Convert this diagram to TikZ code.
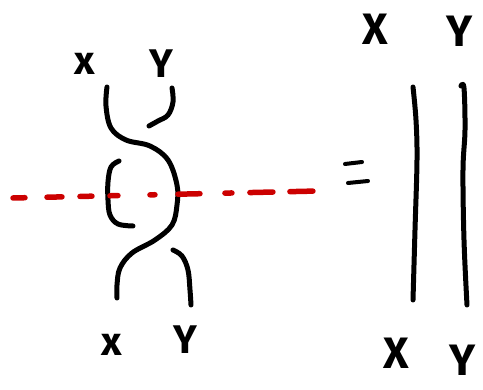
\documentclass[tikz,border=0pt]{standalone}
\usepackage{fontspec}
\setmainfont{Fira Sans}
\definecolor{strandred}{RGB}{204,0,0}
\tikzset{
  strand/.style={line width=5pt, line cap=round, line join=round, black},
  cutline/.style={line width=5.5pt, line cap=round, strandred,
    dash pattern=on 12pt off 22pt on 15pt off 18pt on 12pt off 18pt on 8pt off 32pt on 5pt off 23pt on 22pt off 25pt on 7pt off 18pt on 23pt off 17pt on 23pt off 30pt},
  lblsmall/.style={font=\bfseries\fontsize{40}{40}\selectfont, inner sep=0pt},
  lblbig/.style={font=\bfseries\fontsize{44}{44}\selectfont, inner sep=0pt}
}
\begin{document}
\begin{tikzpicture}[x=1pt,y=-1pt]
\useasboundingbox (0,0) rectangle (483,390);
% labels
\node[lblsmall] (tlx) at (85,64) {x};
\node[lblsmall] (tly) at (161,64) {Y};
\node[lblsmall] (blx) at (112,345) {x};
\node[lblsmall] (bly) at (185,340) {Y};
\node[lblbig] (trx) at (375,29) {X};
\node[lblbig] (try) at (460,31) {Y};
\node[lblbig] (brx) at (396,353) {X};
\node[lblbig] (bry) at (463,360) {Y};
% braid
\draw[strand] plot[smooth, tension=0.6] coordinates {(107,87) (106,106) (111,128) (126,140) (150,146) (168,160) (177,185) (177,205) (172,225) (155,240) (132,253) (120,268) (117,285) (117,298)};
\draw[strand] plot[smooth, tension=0.6] coordinates {(172,88) (173,102) (168,115) (158,121) (149,126)};
\draw[strand] plot[smooth, tension=0.6] coordinates {(119,161) (111,167) (108,182) (108,200) (110,215) (118,224) (133,226)};
\draw[strand] plot[smooth, tension=0.6] coordinates {(173,250) (182,256) (188,270) (190,290) (191,305)};
% cut line
\coordinate (cl) at (13,198);
\coordinate (cr) at (318,191);
\draw[cutline] (cl) -- (cr);
% equals
\draw[strand, line width=4pt] (345,164) -- (362,162);
\draw[strand, line width=4pt] (348,183) -- (368,181);
% identity strands
\draw[strand] plot[smooth, tension=0.6] coordinates {(413,87) (416,120) (417,160) (415,230) (413,300)};
\draw[strand] plot[smooth, tension=0.6] coordinates {(461,86) (464,88) (465,130) (463,170) (464,240) (467,305)};
\end{tikzpicture}
\end{document}
